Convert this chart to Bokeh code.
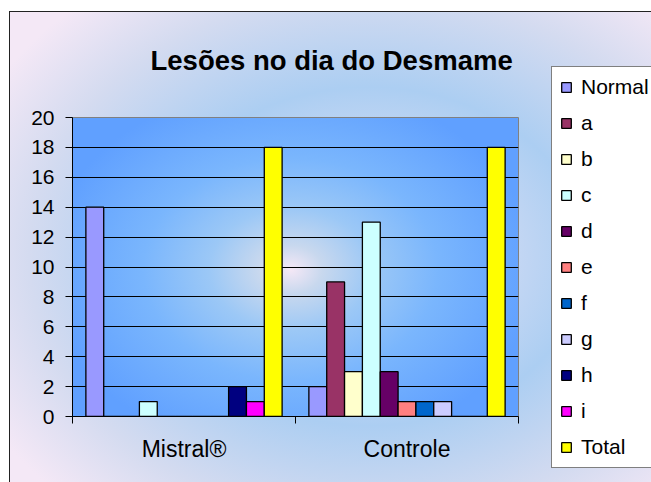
import numpy as np
from bokeh.plotting import figure
from bokeh.layouts import row
from bokeh.models import Range1d, FixedTicker, Legend, LegendItem, ColumnDataSource
from bokeh.transform import dodge
from bokeh.embed import file_html
from bokeh.resources import INLINE

# ---------------- data ----------------
categories = ["Mistral®", "Controle"]
series = ["Normal", "a", "b", "c", "d", "e", "f", "g", "h", "i", "Total"]
normal = [14, 2]
a = [0, 9]
b = [0, 3]
c = [1, 13]
d = [0, 3]
e = [0, 1]
f = [0, 1]
g = [0, 1]
h = [2, 0]
i_ = [1, 0]
total = [18, 18]
y_ticks = [0, 2, 4, 6, 8, 10, 12, 14, 16, 18, 20]
title_text = "Lesões no dia do Desmame"

series_values = [normal, a, b, c, d, e, f, g, h, i_, total]
colors = ["#9999FF", "#993366", "#FFFFCC", "#CCFFFF", "#660066", "#FF8080",
          "#0066CC", "#CCCCFF", "#000080", "#FF00FF", "#FFFF00"]

FONT = "Liberation Sans"

# ---------------- main chart ----------------
W, H = 540, 482
W2 = 111
FL, FT, FR, FB = 72, 117, 22, 66
p = figure(width=W, height=H, output_backend="svg", toolbar_location=None,
           x_range=Range1d(0, len(categories)), y_range=Range1d(y_ticks[0], y_ticks[-1]),
           min_border_left=FL, min_border_top=FT, min_border_right=FR, min_border_bottom=FB)

p.border_fill_color = None
p.background_fill_color = None
p.outline_line_color = "#808080"
p.outline_line_width = 1

# title
p.title.text = title_text
p.title.text_font = FONT
p.title.text_font_size = "27.5px"
p.title.text_font_style = "bold"
p.title.text_color = "black"
p.title.align = "left"
p.title.offset = 78
p.title.standoff = 84

# bars
x_centers = np.arange(len(categories)) + 0.5
src = ColumnDataSource(dict(x=x_centers, **{s: v for s, v in zip(series, series_values)}))
n = len(series)
bar_w = 0.88 / n
for k, (s, col) in enumerate(zip(series, colors)):
    off = (k - (n - 1) / 2) * bar_w
    p.vbar(x=dodge("x", off), top=s, width=bar_w, source=src,
           fill_color=col, line_color="black", line_width=1.3)

# axes
xa = p.below[0]
xa.ticker = FixedTicker(ticks=list(x_centers), minor_ticks=list(range(len(categories) + 1)))
xa.major_label_overrides = {float(xc): cat for xc, cat in zip(x_centers, categories)}
xa.major_tick_out = 0
xa.major_tick_in = 0
xa.minor_tick_out = 7
xa.minor_tick_in = 0
xa.minor_tick_line_color = "black"
xa.axis_line_color = "black"
xa.major_label_text_font = FONT
xa.major_label_text_font_size = "23px"
xa.major_label_text_color = "black"
xa.major_label_standoff = 12

ya = p.left[0]
ya.ticker = FixedTicker(ticks=y_ticks)
ya.major_tick_out = 7
ya.major_tick_in = 0
ya.minor_tick_line_color = None
ya.axis_line_color = "black"
ya.major_label_text_font = FONT
ya.major_label_text_font_size = "21px"
ya.major_label_text_color = "black"
ya.major_label_standoff = 11

p.xgrid.visible = False
p.ygrid.ticker = FixedTicker(ticks=y_ticks[:-1])
p.ygrid.grid_line_color = "black"
p.ygrid.grid_line_width = 1

# ---------------- legend panel ----------------
p2 = figure(width=W2, height=H, output_backend="svg", toolbar_location=None,
            x_axis_type=None, y_axis_type=None,
            min_border_left=0, min_border_right=0, min_border_top=FT, min_border_bottom=FB,
            x_range=Range1d(10, 11), y_range=Range1d(0, 1))
p2.border_fill_color = None
p2.background_fill_color = None
p2.outline_line_color = None
p2.grid.visible = False
items = []
for k, (s, col) in enumerate(zip(series, colors)):
    r = p2.vbar(x="x", top=s, width=bar_w, source=src,
                fill_color=col, line_color="black", line_width=1.3)
    items.append(LegendItem(label=s, renderers=[r]))

legend = Legend(items=items, location=(11, -52), orientation="vertical",
                padding=8, spacing=12, margin=0,
                glyph_width=12, glyph_height=12, label_height=24, label_standoff=9,
                label_text_font=FONT, label_text_font_size="21px", label_text_color="black",
                border_line_color="black", border_line_width=1,
                background_fill_color="white", background_fill_alpha=1)
p2.add_layout(legend, "left")

# ---------------- background (chart area + plot area gradients, frame) ----------------
fw, fh = W - FL - FR, H - FT - FB
bg = ", ".join([
    "linear-gradient(#222,#222) 9px 11px / 1px calc(100% - 11px) no-repeat",
    "linear-gradient(#222,#222) 9px 11px / calc(100% - 9px) 1px no-repeat",
    f"radial-gradient(ellipse 55% 62% at 49% 51%, #F5E8F6 0%, #C8D8EE 13%, #9CC8F6 33%, #7AB6FD 60%, #60A0FF 100%) {FL}px {FT}px / {fw}px {fh}px no-repeat",
    "radial-gradient(ellipse 68% 72% at 56% 52%, #F4E8F6 0%, #ACCEF2 50%, #D4DBF0 78%, #F4E8F6 100%) 10px 12px / calc(100% - 10px) calc(100% - 12px) no-repeat",
])
layout = row(p, p2, spacing=0, styles={"background": bg})

open("out.html", "w").write(file_html(layout, INLINE))
